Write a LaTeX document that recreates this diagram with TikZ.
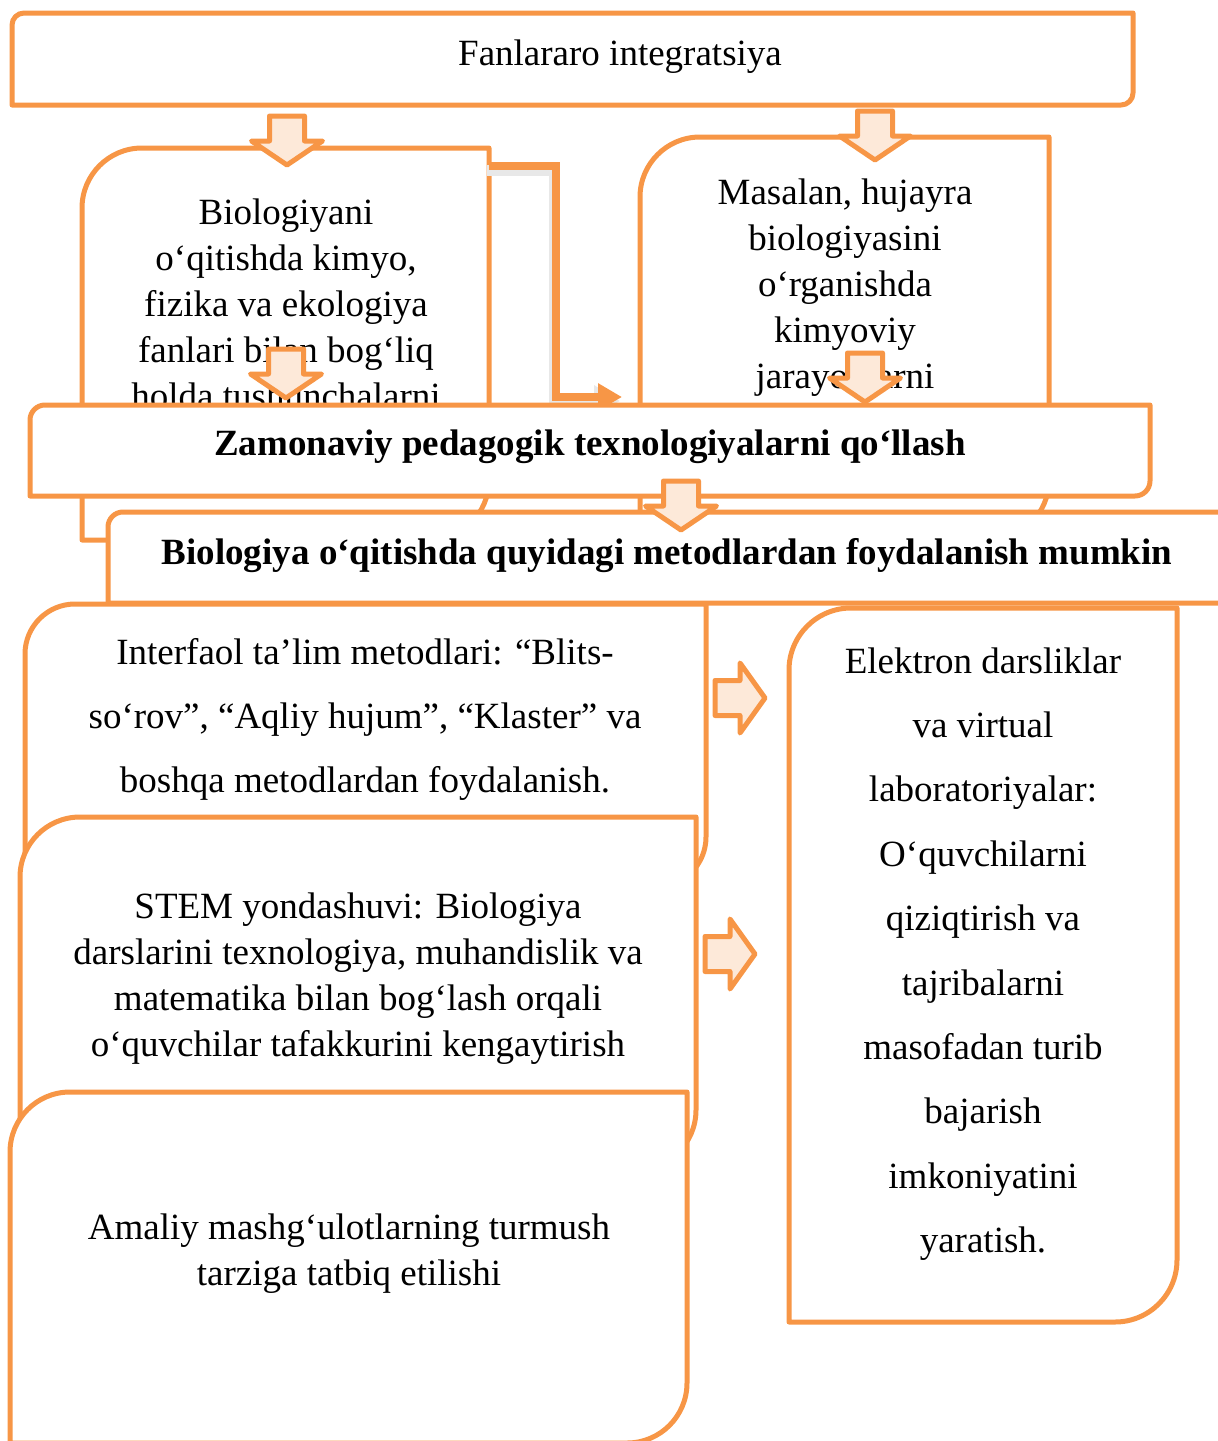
\documentclass[tikz,border=0pt]{standalone}
\usepackage{fontspec}
\setmainfont{Liberation Serif}
\usepackage{xcolor}
\usepackage{tikz}
\usetikzlibrary{calc}
\usetikzlibrary{arrows.meta}
\usetikzlibrary{shapes}
\tikzset{>=latex}
\definecolor{orangeB}{HTML}{F79646}
\definecolor{peachB}{HTML}{FDE9D9}
\tikzstyle{boxline} = [draw=orangeB, line width=5pt, fill=white, line join=round]
\tikzstyle{blockline} = [draw=orangeB, line width=5pt, fill=peachB, line join=round]
\tikzstyle{txt} = [align=center, inner sep=0pt, font=\fontsize{37}{46}\selectfont]
\tikzstyle{wide} = [txt, font=\fontsize{37}{64}\selectfont]
\tikzstyle{bentline} = [draw=orangeB, line width=8pt, -{Triangle[length=24pt,width=26pt]}]
\tikzstyle{bentshadow} = [draw=black!9, line width=11pt, -{Triangle[length=26pt,width=30pt]}, transform canvas={shift={(-2pt,-4pt)}}]
% box with rounded top-left and bottom-right corners
\newcommand{\diagbox}[6]{%
  \draw[boxline] (#2,#5) -- (#2,#3+#6) arc[start angle=180, end angle=270, radius=#6] -- (#4,#3) -- (#4,#5-#6) arc[start angle=0, end angle=90, radius=#6] -- cycle;
  \coordinate (#1) at ({(#2+#4)/2},{(#3+#5)/2});
}
% block arrows: name, x, y of the tip
\newcommand{\blockdown}[3]{%
  \draw[blockline] (#2-17.5,#3-49) -- (#2+17.5,#3-49) -- (#2+17.5,#3-24) -- (#2+35.5,#3-24) -- (#2,#3) -- (#2-35.5,#3-24) -- (#2-17.5,#3-24) -- cycle;
  \coordinate (#1) at (#2,#3);
}
\newcommand{\blockright}[3]{%
  \draw[blockline] (#2-50,#3-17.5) -- (#2-25,#3-17.5) -- (#2-25,#3-35) -- (#2,#3) -- (#2-25,#3+35) -- (#2-25,#3+17.5) -- (#2-50,#3+17.5) -- cycle;
  \coordinate (#1) at (#2,#3);
}

\begin{document}
\begin{tikzpicture}[x=1pt, y=-1pt]
\clip (0,0) rectangle (1218,1441);
\diagbox{top}{12}{13}{1133}{105}{12}
\node [txt] (toptxt) at (620,57) {Fanlararo integratsiya};
\diagbox{lbox}{82}{148}{489}{540}{60}
\diagbox{rbox}{640}{137}{1049}{540}{60}
\node [txt] (ltxt) at (286,304) {Biologiyani\\o‘qitishda kimyo,\\fizika va ekologiya\\fanlari bilan bog‘liq\\holda tushunchalarni};
\node [txt] (rtxt) at (845,288) {Masalan, hujayra\\biologiyasini\\o‘rganishda\\kimyoviy\\jarayonlarni};
\coordinate (bendstart) at (489,166);
\coordinate (bendend) at (622,397);
\draw [bentshadow] (bendstart) -| (556,397) -- (bendend);
\draw [bentline] (bendstart) -| (556,397) -- (bendend);
\blockdown{a1}{287}{165}
\blockdown{a2}{875}{160}
\blockdown{a3}{286}{398}
\blockdown{a4}{865}{402}
\diagbox{zam}{30}{405}{1150}{496}{15}
\node [txt, font=\fontsize{37}{46}\selectfont\bfseries] (zamtxt) at (590,447) {Zamonaviy pedagogik texnologiyalarni qo‘llash};
\diagbox{bio}{108}{512}{1240}{603}{15}
\node [txt, font=\fontsize{37}{46}\selectfont\bfseries] (biotxt) at (667,556) {Biologiya o‘qitishda quyidagi metodlardan foydalanish mumkin};
\blockdown{a5}{681}{530}
\diagbox{inter}{25}{604}{706}{887}{50}
\node [wide] (intertxt) at (365,719) {Interfaol ta’lim metodlari: “Blits-\\so‘rov”, “Aqliy hujum”, “Klaster” va\\boshqa metodlardan foydalanish.};
\diagbox{stem}{20}{817}{696}{1170}{60}
\node [txt] (stemtxt) at (358,979) {STEM yondashuvi: Biologiya\\darslarini texnologiya, muhandislik va\\matematika bilan bog‘lash orqali\\o‘quvchilar tafakkurini kengaytirish};
\diagbox{amal}{10}{1092}{687}{1443}{60}
\node [txt] (amaltxt) at (349,1254) {Amaliy mashg‘ulotlarning turmush\\tarziga tatbiq etilishi};
\diagbox{elek}{789}{608}{1177}{1322}{62}
\node [txt, font=\fontsize{37}{64.4}\selectfont] (elektxt) at (983,954) {Elektron darsliklar\\va virtual\\laboratoriyalar:\\O‘quvchilarni\\qiziqtirish va\\tajribalarni\\masofadan turib\\bajarish\\imkoniyatini\\yaratish.};
\blockright{r1}{765}{698}
\blockright{r2}{755}{954}
\end{tikzpicture}
\end{document}
